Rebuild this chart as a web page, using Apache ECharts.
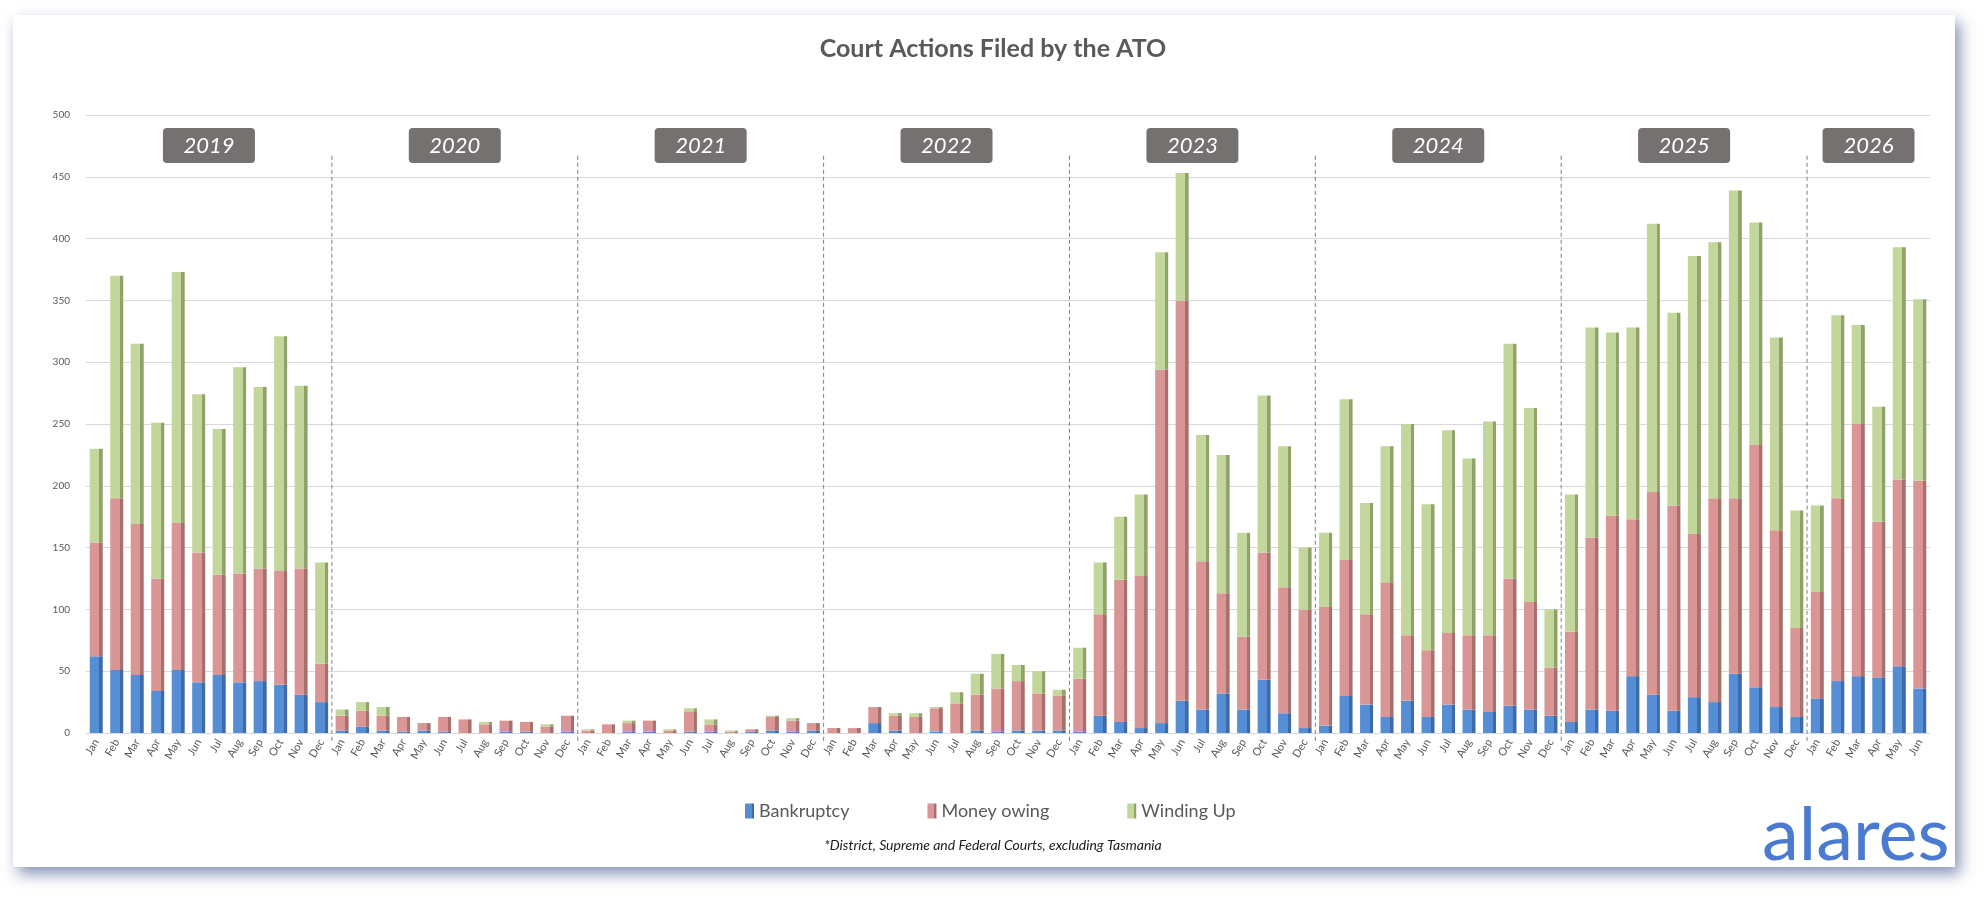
<!DOCTYPE html>
<html>
<head>
<meta charset="utf-8">
<title>Court Actions Filed by the ATO</title>
<script src="https://cdn.jsdelivr.net/npm/echarts@6/dist/echarts.min.js"></script>
<style>
  html, body { margin: 0; padding: 0; background: #ffffff; }
  #main { width: 1986px; height: 902px; }
</style>
</head>
<body>
<div id="main"></div>
<script>
// years shown on the chart and the month names used under each bar
var years = ['2019', '2020', '2021', '2022', '2023', '2024', '2025', '2026'];
var monthNames = ['Jan', 'Feb', 'Mar', 'Apr', 'May', 'Jun', 'Jul', 'Aug', 'Sep', 'Oct', 'Nov', 'Dec'];
var monthsInYear = [12, 12, 12, 12, 12, 12, 12, 6];
var yTicks = [0, 50, 100, 150, 200, 250, 300, 350, 400, 450, 500];

// counts per month (2019 Jan .. 2026 Jun)
var bankruptcy = [
  62, 51, 47, 34, 51, 41, 47, 41, 42, 39, 31, 25,
  2, 5, 2, 1, 2, 1, 0, 0, 1, 1, 0, 1,
  0, 0, 1, 1, 0, 1, 1, 0, 1, 2, 1, 2,
  0, 0, 8, 2, 0, 1, 0, 2, 1, 2, 2, 2,
  1, 14, 9, 4, 8, 26, 19, 32, 19, 43, 16, 4,
  6, 30, 23, 13, 26, 13, 23, 19, 17, 22, 19, 14,
  9, 19, 18, 46, 31, 18, 29, 25, 48, 37, 21, 13,
  28, 42, 46, 45, 54, 36
];
var moneyOwing = [
  92, 139, 122, 91, 119, 105, 81, 88, 91, 92, 102, 31,
  12, 13, 12, 12, 6, 12, 11, 7, 9, 8, 5, 13,
  2, 7, 7, 9, 2, 16, 6, 1, 2, 11, 9, 6,
  4, 4, 13, 12, 13, 19, 24, 29, 35, 40, 30, 28,
  43, 82, 115, 123, 286, 324, 120, 81, 59, 103, 102, 96,
  96, 110, 73, 109, 53, 54, 58, 60, 62, 103, 87, 39,
  73, 139, 158, 127, 164, 166, 132, 165, 142, 196, 143, 72,
  86, 148, 204, 126, 151, 168
];
var windingUp = [
  76, 180, 146, 126, 203, 128, 118, 167, 147, 190, 148, 82,
  5, 7, 7, 0, 0, 0, 0, 2, 0, 0, 2, 0,
  1, 0, 2, 0, 1, 3, 4, 1, 0, 1, 2, 0,
  0, 0, 0, 2, 3, 1, 9, 17, 28, 13, 18, 5,
  25, 42, 51, 66, 95, 103, 102, 112, 84, 127, 114, 50,
  60, 130, 90, 110, 171, 118, 164, 143, 173, 190, 157, 47,
  111, 170, 148, 155, 217, 156, 225, 207, 249, 180, 156, 95,
  70, 148, 80, 93, 188, 147
];

// build category list and the index span of every year
var categories = [];
var yearSpans = [];
years.forEach(function (y, k) {
  var start = categories.length;
  for (var m = 0; m < monthsInYear[k]; m++) {
    categories.push(y + '-' + monthNames[m]);
  }
  yearSpans.push([start, categories.length - 1]);
});

// front colour + darker side colour to fake the 3D bar
function barFill(front, side) {
  return new echarts.graphic.LinearGradient(0, 0, 1, 0, [
    { offset: 0, color: front },
    { offset: 0.74, color: front },
    { offset: 0.74, color: side },
    { offset: 1, color: side }
  ]);
}

var fontFam = 'Lato, "Open Sans", sans-serif';
var chart = echarts.init(document.getElementById('main'));

var option = {
  animation: false,
  backgroundColor: '#ffffff',
  title: {
    text: 'Court Actions Filed by the ATO',
    left: 'center',
    top: 31,
    textStyle: { color: '#595959', fontSize: 25, fontWeight: 'bold', fontFamily: fontFam }
  },
  legend: {
    data: ['Bankruptcy', 'Money owing', 'Winding Up'],
    left: 740,
    top: 797,
    icon: 'rect',
    itemWidth: 9,
    itemHeight: 15,
    itemGap: 78,
    itemStyle: { borderWidth: 0 },
    textStyle: { color: '#595959', fontSize: 18, fontFamily: fontFam }
  },
  grid: { left: 86, right: 56, top: 115, bottom: 169 },
  xAxis: {
    type: 'category',
    data: categories,
    axisLine: { show: true, lineStyle: { color: '#d9d9d9' } },
    axisTick: { show: false },
    axisLabel: {
      interval: 0,
      rotate: 60,
      margin: 7,
      color: '#595959',
      fontSize: 11,
      fontFamily: fontFam,
      formatter: function (v) { return v.split('-')[1]; }
    }
  },
  yAxis: {
    type: 'value',
    min: yTicks[0],
    max: yTicks[yTicks.length - 1],
    interval: 50,
    axisLine: { show: false },
    axisTick: { show: false },
    axisLabel: { color: '#595959', fontSize: 10, margin: 16, fontFamily: fontFam },
    splitLine: { lineStyle: { color: '#d9d9d9' } }
  },
  series: [
    {
      name: 'Bankruptcy', type: 'bar', stack: 'all', barWidth: 13,
      itemStyle: { color: barFill('#558ed5', '#3d6aa8') },
      data: bankruptcy
    },
    {
      name: 'Money owing', type: 'bar', stack: 'all', barWidth: 13,
      itemStyle: { color: barFill('#d99694', '#a86f6d') },
      data: moneyOwing
    },
    {
      name: 'Winding Up', type: 'bar', stack: 'all', barWidth: 13,
      itemStyle: { color: barFill('#c3d69b', '#8fa267') },
      data: windingUp
    },
    {
      // year badges and dashed year separators
      name: 'years', type: 'custom', clip: false, silent: true, z: 5,
      data: yearSpans,
      encode: { x: 0 },
      renderItem: function (params, api) {
        var a = api.coord([api.value(0), 0]);
        var b = api.coord([api.value(1), 0]);
        var top = api.coord([0, 500])[1];
        var half = api.size([1, 0])[0] / 2;
        var cx = (a[0] + b[0]) / 2;
        var kids = [
          { type: 'rect', shape: { x: cx - 46, y: top + 13, width: 92, height: 35, r: 4 },
            style: { fill: '#767171' } },
          { type: 'text',
            style: { text: years[params.dataIndex], x: cx, y: top + 31, align: 'center', verticalAlign: 'middle',
              fill: '#ffffff', fontSize: 22, fontStyle: 'italic', fontFamily: fontFam } }
        ];
        if (params.dataIndex > 0) {
          var sx = a[0] - half;
          kids.push({ type: 'line',
            shape: { x1: sx, y1: api.coord([0, 467])[1], x2: sx, y2: a[1] + 9 },
            style: { stroke: '#7f7f7f', lineWidth: 1, lineDash: [4, 3] } });
        }
        return { type: 'group', children: kids };
      }
    }
  ],
  graphic: [
    {
      type: 'rect', z: -100, silent: true,
      shape: { x: 13, y: 15, width: 1942, height: 852 },
      style: { fill: '#ffffff', shadowBlur: 14, shadowOffsetX: 5, shadowOffsetY: 7, shadowColor: 'rgba(55,75,135,0.6)' }
    },
    {
      type: 'text', left: 'center', top: 838, silent: true,
      style: { text: '*District, Supreme and Federal Courts, excluding Tasmania', fill: '#1a1a1a',
        fontSize: 14, fontStyle: 'italic', fontFamily: fontFam }
    },
    {
      type: 'text', x: 1762, y: 836, silent: true,
      style: { text: 'alares', fill: '#4a7bd1', fontSize: 74, fontFamily: fontFam,
        verticalAlign: 'middle' }
    }
  ]
};

chart.setOption(option);
</script>
</body>
</html>
